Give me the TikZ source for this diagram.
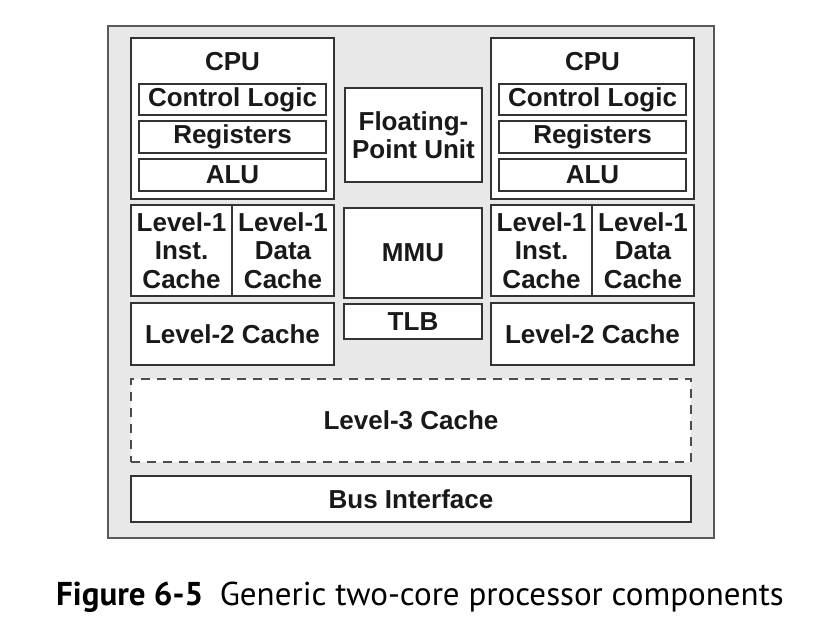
\documentclass[tikz,border=0pt]{standalone}
\usepackage{fontspec}
\setmainfont{Liberation Sans}
\newfontfamily\capfont{PT Sans}
\usetikzlibrary{positioning}
\definecolor{chipgrey}{HTML}{E8E8E8}
\definecolor{edge}{HTML}{333333}
\begin{document}
\begin{tikzpicture}[x=1pt, y=-1pt, node distance={6pt},
    box/.style = {draw=edge, fill=white, line width=1.6pt, inner sep=0pt, outer sep=0pt, text=black!90,
                  font=\fontsize{26}{28.5}\selectfont\bfseries, align=center},
    part/.style = {box, minimum width=187pt, minimum height=32pt},
    lbl/.style = {inner sep=0pt, text=black!90, font=\fontsize{26}{28.5}\selectfont\bfseries}]
    \useasboundingbox (0,0) rectangle (816,631);
    \node[draw=black!65, fill=chipgrey, line width=2pt, minimum width=606pt, minimum height=512pt] (chip) at (411,282) {};

    % the two cores
    \foreach \s/\x in {L/0, R/360} {
        \node[box, minimum width=203pt, minimum height=161pt] (cpu\s) at (232.5+\x,118.5) {};
        \node[lbl] (cpu\s txt) at (232.5+\x,62) {CPU};
        \node[part, minimum height=31pt] (ctl\s) at (232.5+\x,99.5) {Control Logic};
        \node[part] (reg\s) [below =of ctl\s] {Registers};
        \node[part] (alu\s) [below =of reg\s] {ALU};
        \node[box, minimum width=101pt, minimum height=91pt] (inst\s) at (181.5+\x,250.5) {Level-1\\Inst.\\Cache};
        \node[box, minimum width=102pt, minimum height=91pt] (data\s) [right =0pt of inst\s] {Level-1\\Data\\Cache};
        \node[box, minimum width=203pt, minimum height=62pt] (ltwo\s) at (232.5+\x,334) {Level-2 Cache};
    }

    % shared units
    \node[box, minimum width=137pt, minimum height=94pt] (fpu) at (413.5,135) {Floating-\\Point Unit};
    \node[box, minimum width=138pt, minimum height=90pt] (mmu) at (413,253) {MMU};
    \node[box, minimum width=138pt, minimum height=35pt] (tlb) [below =of mmu] {TLB};
    \node[box, draw=black!70, dash pattern=on 9pt off 7pt, minimum width=560pt, minimum height=83pt] (lthree) at (411,420.5) {Level-3 Cache};
    \node[box, minimum width=560pt, minimum height=46pt] (bus) at (411,499) {Bus Interface};

    \node[anchor=base west, inner sep=0pt, font=\capfont\fontsize{33}{33}\selectfont] (caption) at (56,605)
        {\textbf{Figure 6-5}\hspace{0.5em}Generic two-core processor components};
\end{tikzpicture}
\end{document}
